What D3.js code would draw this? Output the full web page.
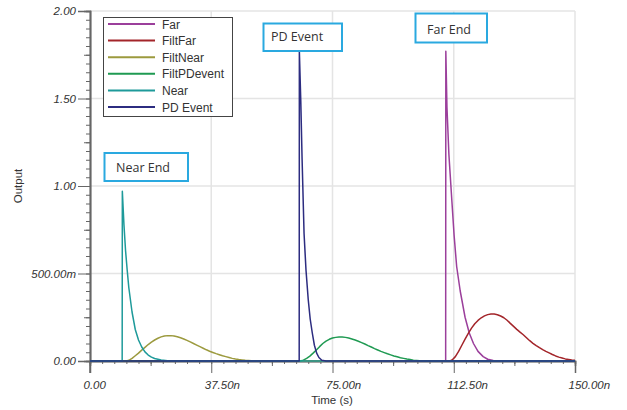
<!DOCTYPE html>
<html><head><meta charset="utf-8">
<script src="https://cdn.jsdelivr.net/npm/d3@7"></script>
<style>
html,body{margin:0;padding:0;background:#fff;}
svg{display:block;}
</style></head>
<body>
<svg id="chart" width="627" height="410"></svg>
<script>
// ---- data (time in ns, output value) ----
const xTickValues = [0, 37.5, 75, 112.5, 150];
const xTickLabels = ["0.00", "37.50n", "75.00n", "112.50n", "150.00n"];
const yTickValues = [0, 0.5, 1.0, 1.5, 2.0];
const yTickLabels = ["0.00", "500.00m", "1.00", "1.50", "2.00"];

const seriesNames = ["Far", "FiltFar", "FiltNear", "FiltPDevent", "Near", "PD Event"];
const seriesColors = ["#9b3f9b", "#a3252a", "#9c9a3e", "#1f9a52", "#1e9a9a", "#2c2c80"];

const farData = [[0,0],[110,0],[110.05,1.77],[110.4,1.45],[111.0,1.18],[111.9,0.92],[112.6,0.72],[113.4,0.54],[114.5,0.40],[116,0.25],[117.3,0.16],[118.6,0.10],[120,0.055],[121.6,0.025],[123,0.01],[124.7,0.003],[127,0],[150,0]];
const filtFarData = [[0,0],[111.3,0],[112,0.006],[113,0.025],[114,0.055],[115,0.09],[116,0.125],[117,0.158],[118,0.188],[119,0.213],[120,0.232],[121,0.247],[122,0.258],[123,0.265],[124,0.268],[125,0.268],[126,0.264],[127,0.257],[128,0.247],[129,0.233],[130,0.215],[131,0.198],[132,0.181],[133,0.165],[134,0.15],[135,0.133],[136,0.116],[137,0.101],[138,0.088],[139,0.076],[140,0.065],[141,0.055],[142,0.046],[143,0.037],[144,0.029],[145,0.022],[146,0.017],[147,0.012],[148,0.009],[149,0.006],[150,0.004]];
const filtNearData = [[0,0],[11.3,0],[12,0.004],[13,0.015],[14,0.03],[15,0.045],[16,0.062],[17,0.078],[18,0.094],[19,0.108],[20,0.12],[21,0.13],[22,0.138],[23,0.143],[24,0.145],[25,0.145],[26,0.143],[27,0.139],[28,0.133],[29,0.126],[30,0.118],[31,0.109],[32,0.1],[33,0.091],[34,0.082],[35,0.073],[36,0.064],[37,0.056],[38,0.049],[39,0.042],[40,0.036],[41,0.03],[42,0.025],[43,0.02],[44,0.015],[45,0.011],[46,0.008],[47,0.006],[48,0.004],[50,0.002],[52,0],[150,0]];
const filtPDData = [[0,0],[65,0],[66,0.005],[67,0.015],[68,0.028],[69,0.045],[70,0.063],[71,0.082],[72,0.1],[73,0.114],[74,0.124],[75,0.131],[76,0.135],[77,0.137],[78,0.137],[79,0.135],[80,0.131],[81,0.126],[82,0.12],[83,0.113],[84,0.105],[85,0.097],[86,0.088],[87,0.08],[88,0.071],[89,0.063],[90,0.055],[91,0.048],[92,0.041],[93,0.035],[94,0.029],[95,0.024],[96,0.019],[97,0.015],[98,0.011],[99,0.008],[100,0.005],[102,0.002],[104,0],[150,0]];
const nearData = [[0,0],[9.95,0],[10.0,0.97],[10.5,0.78],[11.0,0.63],[11.5,0.52],[12.0,0.42],[13.0,0.28],[14.0,0.18],[15.0,0.12],[16.0,0.08],[17.0,0.052],[18.0,0.034],[19.0,0.022],[20.0,0.014],[22.0,0.006],[24,0.002],[26,0],[150,0]];
const pdData = [[0,0],[64.7,0],[64.75,1.77],[65.2,1.48],[65.6,1.15],[66.2,0.73],[66.8,0.52],[67.5,0.35],[68.1,0.24],[68.75,0.16],[69.4,0.09],[70.1,0.045],[70.8,0.02],[71.7,0.004],[73,0],[150,0]];
const seriesData = [farData, filtFarData, filtNearData, filtPDData, nearData, pdData];

const annotLabels = ["Near End", "PD Event", "Far End"];

// ---- layout ----
const svg = d3.select("#chart");
const x = d3.scaleLinear().domain([0, 150]).range([90, 575]);
const y = d3.scaleLinear().domain([0, 2]).range([361, 11]);

const tickFont = "Liberation Sans, Arial, sans-serif";

// grid
const grid = svg.append("g");
grid.selectAll("line.hg").data(yTickValues.filter(d => d > 0)).join("line")
  .attr("x1", x(0)).attr("x2", x(150)).attr("y1", d => y(d)).attr("y2", d => y(d))
  .attr("stroke", "#e4e4e4").attr("stroke-width", 1.5);
grid.selectAll("line.vg").data(xTickValues.filter(d => d > 0)).join("line")
  .attr("x1", d => x(d)).attr("x2", d => x(d)).attr("y1", y(2)).attr("y2", y(0))
  .attr("stroke", "#e4e4e4").attr("stroke-width", 1.5);

// y axis
const yAxisG = svg.append("g").attr("transform", `translate(${x(0)},0)`);
yAxisG.call(d3.axisLeft(y).tickValues(d3.range(0, 2.0001, 0.05)).tickSize(4).tickFormat(""));
yAxisG.append("g").call(d3.axisLeft(y).tickValues(d3.range(0.25, 2, 0.5)).tickSize(6).tickFormat(""));
yAxisG.append("g").call(d3.axisLeft(y).tickValues(yTickValues).tickSize(12)
  .tickFormat((d, i) => yTickLabels[i]).tickPadding(2));
yAxisG.selectAll("path.domain").attr("stroke", "#666").attr("stroke-width", 1.5);
yAxisG.selectAll(".tick line").attr("stroke", "#666").attr("stroke-width", 1);
yAxisG.selectAll("text").attr("font-family", tickFont).attr("font-style", "italic")
  .attr("font-size", 11.5).attr("fill", "#333");
// extend y axis line to below x-axis
svg.append("line").attr("x1", x(0)).attr("x2", x(0)).attr("y1", y(0)).attr("y2", y(0) + 12)
  .attr("stroke", "#666").attr("stroke-width", 1.5);

// x axis
const xAxisG = svg.append("g").attr("transform", `translate(0,${y(0)})`);
xAxisG.call(d3.axisBottom(x).tickValues(d3.range(0, 150.001, 3.75)).tickSize(3).tickFormat(""));
xAxisG.append("g").call(d3.axisBottom(x).tickValues(d3.range(18.75, 150, 37.5)).tickSize(5).tickFormat(""));
xAxisG.append("g").call(d3.axisBottom(x).tickValues(xTickValues).tickSize(12).tickFormat(""));
xAxisG.selectAll("path.domain").attr("stroke", "#666").attr("stroke-width", 1.5);
xAxisG.selectAll(".tick line").attr("stroke", "#666").attr("stroke-width", 1);
svg.append("g").selectAll("text").data(xTickValues).join("text")
  .attr("x", d => x(d) - 6.5).attr("y", 389)
  .attr("font-family", tickFont).attr("font-style", "italic").attr("font-size", 11.5)
  .attr("fill", "#333").text((d, i) => xTickLabels[i]);

// axis titles
svg.append("text").attr("x", 332).attr("y", 404).attr("text-anchor", "middle")
  .attr("font-family", tickFont).attr("font-size", 11.5).attr("fill", "#333").text("Time (s)");
svg.append("text").attr("transform", "translate(22,186) rotate(-90)").attr("text-anchor", "middle")
  .attr("font-family", tickFont).attr("font-size", 11.5).attr("fill", "#333").text("Output");

// series
const line = d3.line().x(d => x(d[0])).y(d => y(d[1]));
svg.append("g").selectAll("path").data(seriesData).join("path")
  .attr("d", line).attr("fill", "none")
  .attr("stroke", (d, i) => seriesColors[i]).attr("stroke-width", 1.5)
  .attr("stroke-linejoin", "round");

// legend
const leg = svg.append("g");
leg.append("rect").attr("x", 103.5).attr("y", 17.5).attr("width", 129).attr("height", 99)
  .attr("fill", "#fff").attr("stroke", "#444").attr("stroke-width", 1);
const legRows = leg.selectAll("g.row").data(seriesNames).join("g")
  .attr("transform", (d, i) => `translate(0,${24 + i * 16.6})`);
legRows.append("line").attr("x1", 108).attr("x2", 155).attr("y1", 0).attr("y2", 0)
  .attr("stroke", (d, i) => seriesColors[i]).attr("stroke-width", 2);
legRows.append("text").attr("x", 162).attr("y", 4.5)
  .attr("font-family", tickFont).attr("font-size", 12).attr("fill", "#333").text(d => d);

// annotation boxes
const annotBoxes = [
  {x0: 104.5, y0: 153, x1: 188, y1: 181, tx: 116, ty: 172},
  {x0: 263.5, y0: 23.5, x1: 342, y1: 51, tx: 271, ty: 41},
  {x0: 415.5, y0: 13.5, x1: 487, y1: 42.5, tx: 427, ty: 33.5}
];
const ann = svg.append("g").selectAll("g").data(annotBoxes).join("g");
ann.append("rect").attr("x", d => d.x0).attr("y", d => d.y0)
  .attr("width", d => d.x1 - d.x0).attr("height", d => d.y1 - d.y0)
  .attr("fill", "#fff").attr("stroke", "#2aa9e0").attr("stroke-width", 2);
ann.append("text").attr("x", d => d.tx).attr("y", d => d.ty)
  .attr("font-family", "Open Sans, sans-serif").attr("font-size", 12.5).attr("fill", "#333")
  .text((d, i) => annotLabels[i]);
</script>
</body></html>
